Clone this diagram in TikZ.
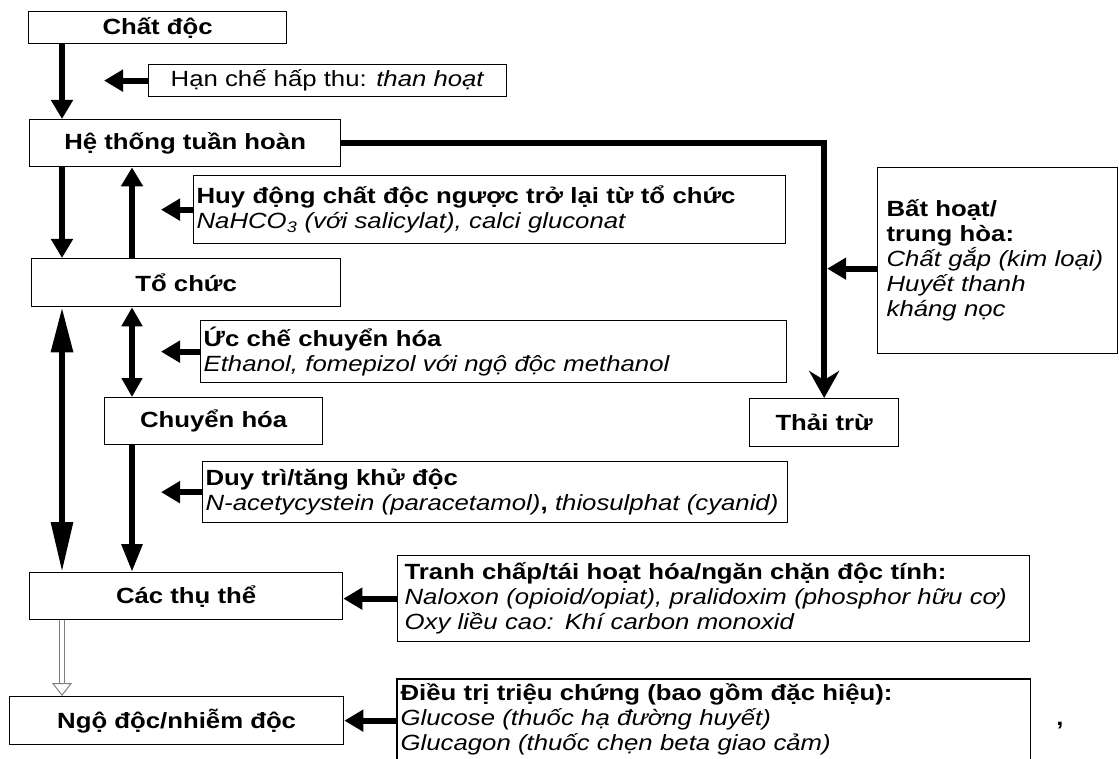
\documentclass[tikz,border=0pt]{standalone}
\usepackage{fontspec}
\setmainfont{Liberation Sans}[FakeStretch=1.17]
\usetikzlibrary{arrows.meta,calc}
\newcommand\myfs{\fontsize{22}{25}\selectfont}
\begin{document}
\begin{tikzpicture}[x=1pt,y=-1pt,
  box/.style={draw, line width=1.3pt, inner sep=0pt, anchor=north west},
  lbl/.style={box, align=center, font=\myfs\bfseries},
  rbox/.style={box, align=left, font=\myfs, inner ysep=0pt},
  arr/.style={line width=6pt, -{Triangle[length=19pt,width=21pt]}},
  arrlong/.style={line width=6pt, {Triangle[length=45pt,width=21pt]}-{Triangle[length=50pt,width=21pt]}},
  arrdbl/.style={line width=6pt, {Triangle[length=19pt,width=20pt]}-{Triangle[length=19pt,width=20pt]}},
  arrmid/.style={line width=6pt, -{Triangle[length=28pt,width=20pt]}},
  hollow/.style={gray, line width=1pt}
]
\useasboundingbox (0,0) rectangle (1119,759);

% left column boxes
\node[lbl, minimum width=258pt, minimum height=32pt] (chat) at (28,11) {Chất độc};
\node[lbl, minimum width=311pt, minimum height=47pt] (he) at (29,119) {Hệ thống tuần hoàn};
\node[lbl, minimum width=309pt, minimum height=48pt] (to) at (31,258) {Tổ chức};
\node[lbl, minimum width=218pt, minimum height=47pt] (chuyen) at (104,397) {Chuyển hóa};
\node[lbl, minimum width=313pt, minimum height=47pt] (thu) at (29,572) {Các thụ thể};
\node[lbl, minimum width=334pt, minimum height=48pt] (ngo) at (9,696) {Ngộ độc/nhiễm độc};
\node[lbl, minimum width=149pt, minimum height=48pt] (thai) at (749,398) {Thải trừ};

% right boxes
\node[box, align=center, font=\myfs, minimum width=358pt, minimum height=32pt] (han) at (148,64) {Hạn chế hấp thu: \textit{than hoạt}};
\node[rbox, text width=586pt, inner xsep=3pt, minimum height=68pt] (huy) at (193,175)
  {\textbf{Huy động chất độc ngược trở lại từ tổ chức}\\\textit{NaHCO\textsubscript{3} (với salicylat), calci gluconat}};
\node[rbox, text width=580pt, inner xsep=3pt, minimum height=62pt] (uc) at (200,320)
  {\textbf{Ức chế chuyển hóa}\\\textit{Ethanol, fomepizol với ngộ độc methanol}};
\node[rbox, text width=579pt, inner xsep=3pt, minimum height=61pt] (duy) at (202,461)
  {\textbf{Duy trì/tăng khử độc}\\\textit{N-acetycystein (paracetamol)}\textbf{,} \textit{thiosulphat (cyanid)}};
\node[rbox, text width=618pt, inner xsep=7pt, minimum height=86pt] (tranh) at (397,555)
  {\textbf{Tranh chấp/tái hoạt hóa/ngăn chặn độc tính:}\\\textit{Naloxon (opioid/opiat), pralidoxim (phosphor hữu cơ)}\\\textit{Oxy liều cao: Khí carbon monoxid}};
\node[rbox, draw=none, text width=626pt, inner xsep=3pt, minimum height=80pt] (dieu) at (397,679)
  {\textbf{Điều trị triệu chứng (bao gồm đặc hiệu):}\\\textit{Glucose (thuốc hạ đường huyết)}\\\textit{Glucagon (thuốc chẹn beta giao cảm)}};
\draw[line width=1.3pt] (dieu.south west) -- (dieu.north west) -- (dieu.north east) -- (dieu.south east);
\node[rbox, text width=222pt, inner xsep=9pt, minimum height=186pt] (bat) at (877,167)
  {\textbf{Bất hoạt/}\\\textbf{trung hòa:}\\\textit{Chất gắp (kim loại)}\\\textit{Huyết thanh}\\\textit{kháng nọc}};
\node[font=\myfs\bfseries] (comma) at (1060,726) {,};

% columns / tips
\coordinate (cA) at (62,0);
\coordinate (cB) at (132,0);
\coordinate (tipA) at (104,0);
\coordinate (tipL) at (161,0);

% connectors
\draw[arr] (chat.south -| cA) -- (he.north -| cA);
\draw[arr] (han.west) -- (han.west -| tipA);
\draw[arr] (he.south -| cA) -- (to.north -| cA);
\draw[arr] (to.north -| cB) -- (he.south -| cB);
\draw[arr] (huy.west) -- (huy.west -| tipL);
\draw[arrlong] (to.south -| cA) -- (thu.north -| cA);
\draw[arrdbl] (to.south -| cB) -- (chuyen.north -| cB);
\draw[arr] (uc.west) -- (uc.west -| tipL);
\draw[arrmid] (chuyen.south -| cB) -- (thu.north -| cB);
\draw[arr] (duy.west) -- (duy.west -| tipL);
\draw[arr] (tranh.west) -- (tranh.west -| thu.east);
\draw[arr] (ngo.east -| dieu.west) -- (ngo.east);
\draw[line width=6pt, -{Stealth[length=27pt,width=30pt,inset=9pt]}] (he.east) -- (he.east -| thai.north) -- (thai.north);
\draw[arr] ($(bat.west)+(0,8)$) -- ($(bat.west -| thai.north)+(3,8)$);

% hollow arrow
\draw[hollow, double=white, double distance=4pt, shorten >=12pt] (thu.south -| cA) -- (ngo.north -| cA);
\draw[hollow, -{Triangle[open,length=13pt,width=20pt]}] ($(ngo.north -| cA)+(0,-13)$) -- (ngo.north -| cA);
\end{tikzpicture}
\end{document}
